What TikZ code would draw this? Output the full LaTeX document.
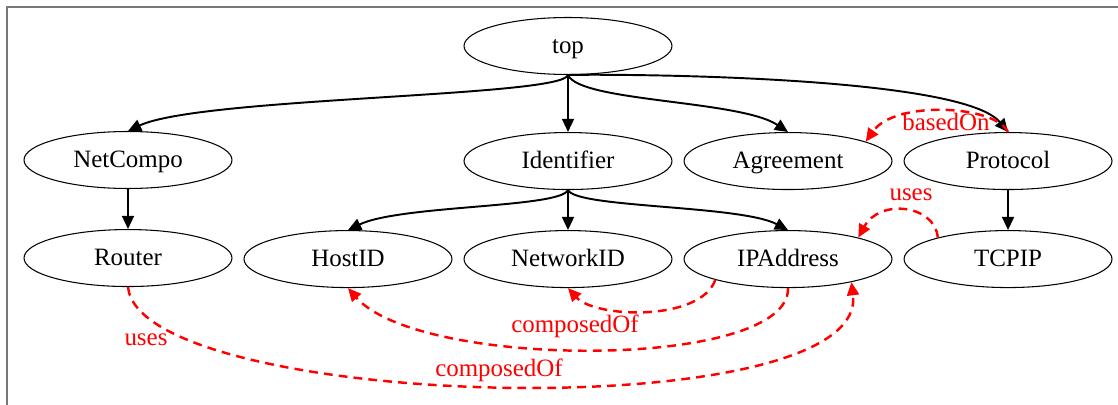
\documentclass[tikz,border=0pt]{standalone}
\usepackage{fontspec}
\setmainfont{Liberation Serif}
\usetikzlibrary{arrows.meta, positioning, shapes.geometric}

\definecolor{FrameGray}{RGB}{120, 120, 120}
\definecolor{RelRed}{RGB}{255, 0, 0}

\begin{document}
\begin{tikzpicture}[
    x=0.02cm, y=-0.02cm,
    node distance=0.8cm and 0.22cm,
    every node/.style={font=\fontsize{14.2}{17}\selectfont},
    concept/.style={draw, ellipse, line width=0.6pt, inner sep=0pt,
                    text height=0.9em, text depth=0.04em,
                    minimum width=4.16cm, minimum height=1.14cm},
    isa/.style={-{Triangle[length=7.5pt, width=6.8pt]}, line width=1.1pt},
    rel/.style={-{Triangle[length=7.5pt, width=6.8pt]}, RelRed, line width=1.4pt,
                dash pattern=on 5pt off 3.5pt},
    rellabel/.style={text=RelRed, anchor=base, inner sep=0pt}
]
\useasboundingbox (0,0) rectangle (1118,405);
\draw[FrameGray, line width=0.8pt] (7,405) -- (7,7) -- (1118,7);

% concepts
\node[concept] (top) at (568,46) {top};
\node[concept, below=1.14cm of top] (identifier) {Identifier};
\node[concept] (netcompo) at (128,160) {NetCompo};
\node[concept, right=of identifier] (agreement) {Agreement};
\node[concept, right=of agreement] (protocol) {Protocol};
\node[concept, below=of netcompo] (router) {Router};
\node[concept, below=of identifier] (networkid) {NetworkID};
\node[concept, left=of networkid] (hostid) {HostID};
\node[concept, right=of networkid] (ipaddress) {IPAddress};
\node[concept, below=of protocol] (tcpip) {TCPIP};

% hierarchy
\draw[isa] (top.south) .. controls (562,97) and (200,97) .. (netcompo.north);
\draw[isa] (top.south) -- (identifier.north);
\draw[isa] (top.south) .. controls (580,102) and (740,100) .. (agreement.north);
\draw[isa] (top.south) .. controls (600,74) and (960,74) .. (protocol.north);
\draw[isa] (netcompo) -- (router);
\draw[isa] (identifier.south) .. controls (560,208) and (400,205) .. (hostid.north);
\draw[isa] (identifier) -- (networkid);
\draw[isa] (identifier.south) .. controls (576,208) and (740,205) .. (ipaddress.north);
\draw[isa] (protocol) -- (tcpip);

% relations
\draw[rel] (protocol.north) .. controls (995,105) and (895,100) .. (agreement.14);
\draw[rel] (tcpip.163) .. controls (935,205) and (880,198) .. (ipaddress.17);
\draw[rel] (ipaddress.196) .. controls (700,322) and (595,318) .. (networkid.south);
\draw[rel] (ipaddress.south) .. controls (790,370) and (420,370) .. (hostid.south);
\draw[rel] (router.south) .. controls (140,410) and (870,430) .. (ipaddress.340);

\node[rellabel] (lbBasedOn) at (946,131) {basedOn};
\node[rellabel] (lbUsesTop) at (911,200) {uses};
\node[rellabel] (lbComposedA) at (575,332) {composedOf};
\node[rellabel] (lbUsesLow) at (146,345) {uses};
\node[rellabel] (lbComposedB) at (499,376) {composedOf};
\end{tikzpicture}
\end{document}
